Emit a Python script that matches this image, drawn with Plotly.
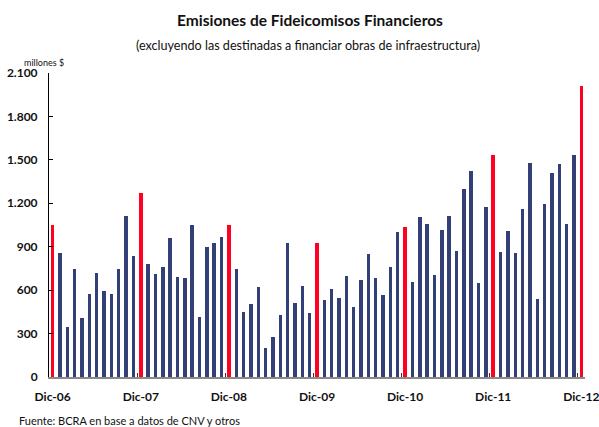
import plotly.graph_objects as go

# Monthly issuance of financial trusts, Dec-2006 .. Dec-2012 (millones $)
emisiones = [
    1050, 856, 344, 745, 406, 572, 717, 593, 572, 745, 1112, 835,
    1271, 780, 711, 759, 960, 690, 683, 1050, 413, 897, 925, 967,
    1050, 745, 448, 503, 621, 198, 275, 427, 925, 510, 627, 441,
    925, 531, 607, 544, 697, 482, 669, 849, 683, 565, 759, 1001,
    1036, 655, 1105, 1057, 704, 1015, 1112, 870, 1299, 1423, 648, 1174,
    1534, 863, 1008, 856, 1160, 1479, 538, 1195, 1410, 1472, 1057, 1534,
    2012,
]
etiquetas_dic = ["Dic-06", "Dic-07", "Dic-08", "Dic-09", "Dic-10", "Dic-11", "Dic-12"]
valores_eje_y = [0, 300, 600, 900, 1200, 1500, 1800, 2100]

AZUL = "#333F77"
ROJO = "#FF0020"
FUENTE = "Lato"

n = len(emisiones)
meses = list(range(n))
pos_dic = [i for i in meses if i % 12 == 0]
colores = [ROJO if i % 12 == 0 else AZUL for i in meses]

fig = go.Figure()
fig.add_trace(go.Bar(
    x=meses, y=emisiones, marker_color=colores, marker_line_width=0,
    width=0.47, showlegend=False,
))
# label-only axis so the December names sit under the red bars
fig.add_trace(go.Scatter(x=[pos_dic[0]], y=[0], xaxis="x2", mode="markers",
                         marker_opacity=0, showlegend=False, hoverinfo="skip"))

fig.update_layout(
    width=599, height=427,
    margin=dict(l=49, r=14, t=73, b=50),
    paper_bgcolor="white", plot_bgcolor="white",
    font=dict(family=FUENTE, color="#000000"),
    separators=",.",
    bargap=0,
    xaxis=dict(
        range=[-0.5, n - 0.5], automargin=False,
        tickvals=[p - 0.5 for p in pos_dic],
        showticklabels=False,
        ticks="inside", ticklen=4, tickwidth=1, tickcolor="#333333",
        showline=True, linecolor="#8a8a8a", linewidth=2,
        showgrid=False, zeroline=False,
    ),
    xaxis2=dict(
        overlaying="x", anchor="y", side="bottom", automargin=False,
        range=[-0.5, n - 0.5],
        tickvals=pos_dic, ticktext=etiquetas_dic,
        ticks="", showline=False, showgrid=False, zeroline=False,
        ticklabeloverflow="allow",
        tickfont=dict(family=FUENTE, size=12, color="#111111", weight="bold"),
        ticklabelstandoff=11,
    ),
    yaxis=dict(
        range=[0, 2100], automargin=False,
        tickvals=valores_eje_y, tickformat=",d",
        ticks="inside", ticklen=4, tickwidth=1, tickcolor="#000000",
        showline=True, linecolor="#000000", linewidth=1,
        showgrid=False, zeroline=False,
        tickfont=dict(family=FUENTE, size=12, color="#111111", weight="bold"),
        ticklabelstandoff=8,
    ),
)

# annotations positioned in page pixels, converted to paper units
plot_l, plot_t, plot_w, plot_h = 49, 73, 599 - 49 - 14, 427 - 73 - 50


def px_to_paper(px, py):
    return (px - plot_l) / plot_w, 1 - (py - plot_t) / plot_h


def texto(txt, px, py, size, anchor="left"):
    x, y = px_to_paper(px, py)
    return dict(text=txt, x=x, y=y, xref="paper", yref="paper", showarrow=False,
                xanchor=anchor, yanchor="middle",
                font=dict(size=size, family=FUENTE, color="#111111"))


fig.update_layout(annotations=[
    texto("<b>Emisiones de Fideicomisos Financieros</b>", 310, 20, 15.5, "center"),
    texto("(excluyendo las destinadas a financiar obras de infraestructura)", 308, 45, 12.6, "center"),
    texto("millones $", 22, 63, 9),
    texto("Fuente: BCRA en base a datos de CNV y otros", 17, 421, 11),
])

fig.write_html("out.html")
